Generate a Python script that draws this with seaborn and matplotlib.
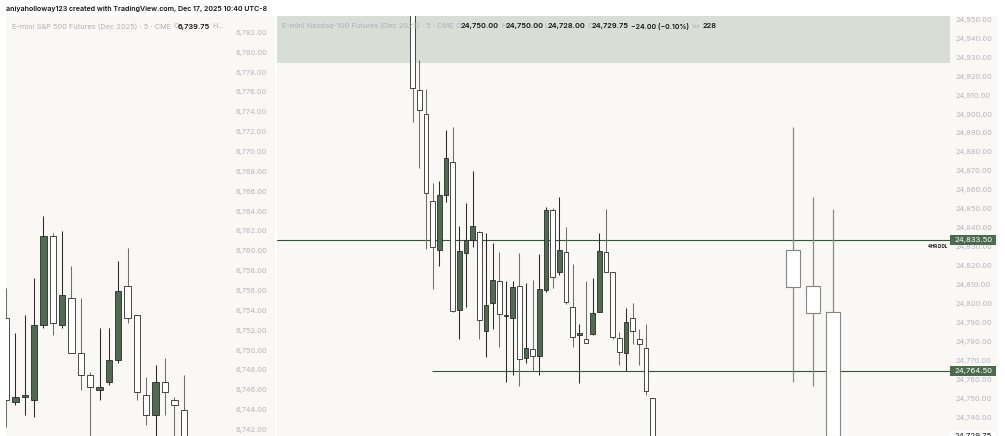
import matplotlib
matplotlib.use("Agg")
import matplotlib.pyplot as plt
import seaborn as sns
from matplotlib.patches import Rectangle
from matplotlib.transforms import blended_transform_factory

# ---------------- data ----------------
title_text = "aniyaholloway123 created with TradingView.com, Dec 17, 2025 10:40 UTC-8"

es_name = "E-mini S&P 500 Futures (Dec 2025) · 5 · CME"
es_last_open = "6,739.75"
es_open = [6753.25, 6744.75, 6745.25, 6745.0, 6752.5, 6761.5, 6752.5, 6755.25, 6749.75, 6747.5,
           6746.0, 6746.75, 6749.0, 6756.5, 6753.5, 6745.5, 6743.5, 6746.75, 6745.0, 6744.0]
es_high = [6756.25, 6751.75, 6753.5, 6757.25, 6763.5, 6761.75, 6762.0, 6758.5, 6755.25, 6747.75,
           6752.25, 6752.25, 6759.0, 6760.25, 6753.5, 6747.25, 6748.5, 6749.25, 6745.25, 6747.5]
es_low = [6742.25, 6744.5, 6743.5, 6743.25, 6752.25, 6751.5, 6752.25, 6749.75, 6746.0, 6741.0,
          6745.0, 6746.5, 6748.75, 6752.75, 6745.0, 6742.5, 6741.0, 6743.5, 6741.0, 6739.0]
es_close = [6745.0, 6745.25, 6745.5, 6752.5, 6761.5, 6752.75, 6755.5, 6749.75, 6747.5, 6746.25,
            6746.25, 6749.0, 6756.0, 6753.25, 6745.75, 6743.5, 6746.75, 6745.75, 6744.5, 6740.0]
es_ticks = [6742, 6744, 6746, 6748, 6750, 6752, 6754, 6756, 6758, 6760, 6762,
            6764, 6766, 6768, 6770, 6772, 6774, 6776, 6778, 6780, 6782]

nq_name = "E-mini Nasdaq-100 Futures (Dec 2025) · 5 · CME"
nq_ohlc_text = ["24,750.00", "24,750.00", "24,728.00", "24,729.75"]
nq_change_text = "−24.00 (−0.10%)"
nq_volume_text = "228"
nq_open = [24962.0, 24912.75, 24900.0, 24854.25, 24828.25, 24857.0, 24874.5, 24796.5, 24826.75, 24833.5,
           24837.5, 24785.5, 24800.0, 24812.0, 24793.25, 24792.25, 24809.25, 24771.0, 24776.0, 24772.5,
           24807.0, 24849.25, 24816.5, 24827.0, 24798.25, 24783.5, 24781.25, 24783.75, 24795.25, 24827.0,
           24816.5, 24781.5, 24773.75, 24792.5, 24781.0, 24776.25, 24750.0]
nq_high = [24965.0, 24928.5, 24913.25, 24863.5, 24864.75, 24891.5, 24893.25, 24841.0, 24853.0, 24870.0,
           24838.0, 24837.25, 24831.75, 24827.0, 24812.0, 24812.0, 24826.5, 24811.0, 24812.25, 24826.0,
           24851.0, 24850.25, 24856.0, 24840.5, 24820.75, 24789.25, 24811.75, 24813.5, 24837.0, 24849.75,
           24816.5, 24784.75, 24797.5, 24800.25, 24786.5, 24789.0, 24750.0]
nq_low = [24896.0, 24871.25, 24829.0, 24807.5, 24820.0, 24853.75, 24795.25, 24781.0, 24798.25, 24830.0,
          24781.0, 24771.5, 24786.75, 24777.25, 24758.75, 24762.25, 24756.5, 24768.75, 24764.5, 24762.25,
          24806.25, 24808.25, 24814.75, 24799.75, 24776.75, 24757.75, 24779.25, 24783.25, 24795.25, 24816.5,
          24781.25, 24767.75, 24764.5, 24778.5, 24767.75, 24751.75, 24728.0]
nq_close = [24914.0, 24902.0, 24858.25, 24829.75, 24857.0, 24876.75, 24796.0, 24827.75, 24833.5, 24841.0,
            24791.0, 24799.25, 24812.5, 24794.25, 24794.0, 24808.5, 24770.5, 24776.25, 24772.0, 24807.5,
            24849.25, 24813.75, 24828.25, 24800.5, 24782.25, 24784.25, 24779.25, 24794.75, 24827.75, 24816.5,
            24782.5, 24774.25, 24790.0, 24785.25, 24778.5, 24753.75, 24729.75]
nq_ticks = [24740, 24750, 24760, 24770, 24780, 24790, 24800, 24810, 24820, 24830, 24840,
            24850, 24860, 24870, 24880, 24890, 24900, 24910, 24920, 24930, 24940, 24950]

# higher-timeframe candles shown to the right (bar slot of each)
htf_slot = [57, 60, 63]
htf_open = [24828.25, 24809.25, 24795.5]
htf_high = [24893.25, 24856.0, 24849.75]
htf_low = [24758.75, 24756.5, 24728.0]
htf_close = [24808.75, 24794.75, 24729.75]

dol_level = 24833.50
dol_label = "4HR DOL"
low_level = 24764.50
low_level_start_bar = 2.9
last_price = 24729.75
zone_bottom = 24926.75
zone_top = 24960.0

# ---------------- style ----------------
W, H = 1005, 436
sns.set_theme(style="white")
plt.rcParams["font.family"] = ["Inter", "DejaVu Sans"]

BG = "#f9f8f5"
UP = "#4e6c50"
DOWN = "#ffffff"
EDGE = "#2a2a2a"
WICK_UP = "#2a2a2a"
WICK_DOWN = "#6e6e6e"
LEVEL = "#2f5a34"
LABEL_BG = "#4a6b4d"
TICK_C = "#b4b6bd"
ZONE = "#d8ddd5"

fig = plt.figure(figsize=(W / 100, H / 100), dpi=100)
fig.patch.set_facecolor("white")
renderer = fig.canvas.get_renderer()


def rect(x0, y0, x1, y1):
    return [x0 / W, 1 - y1 / H, (x1 - x0) / W, (y1 - y0) / H]


# panel backgrounds
fig.patches.append(Rectangle((6 / W, 0), (275 - 6) / W, (H - 16) / H, transform=fig.transFigure,
                             facecolor=BG, edgecolor="none", zorder=-5))
fig.patches.append(Rectangle((277 / W, 0), (998 - 277) / W, (H - 16) / H, transform=fig.transFigure,
                             facecolor=BG, edgecolor="none", zorder=-5))

ax_l = fig.add_axes(rect(6, 16, 230, 436))
ax_r = fig.add_axes(rect(277, 16, 950, 436))


def candles(ax, xs, o, h, l, c, width, wick_lw=0.75, edge_lw=0.6, up=UP, down=DOWN,
            edge=EDGE, wick_up=WICK_UP, wick_down=WICK_DOWN):
    for x, oo, hh, ll, cc in zip(xs, o, h, l, c):
        rising = cc > oo
        ax.vlines(x, ll, hh, color=wick_up if rising else wick_down, lw=wick_lw, zorder=2)
        lo, hi = min(oo, cc), max(oo, cc)
        ax.bar(x, max(hi - lo, 0.12), bottom=lo, width=width,
               color=up if rising else down, edgecolor=edge, linewidth=edge_lw, zorder=3)


candles(ax_l, range(len(es_open)), es_open, es_high, es_low, es_close, width=0.68)
candles(ax_r, range(len(nq_open)), nq_open, nq_high, nq_low, nq_close, width=0.7)
candles(ax_r, htf_slot, htf_open, htf_high, htf_low, htf_close, width=2.1,
        edge="#858585", wick_down="#8a8a8a", wick_lw=0.9, edge_lw=0.8)

ax_l.set_xlim(0.0, 23.95)
ax_l.set_ylim(6741.35, 6783.64)
ax_r.set_xlim(-20.35, 80.6)
ax_r.set_ylim(24730.0, 24951.76)

# zone & levels
ax_r.axhspan(zone_bottom, zone_top, color=ZONE, zorder=0.5, lw=0)
ax_r.axhline(dol_level, color=LEVEL, lw=0.8, zorder=1.5)
ax_r.hlines(low_level, low_level_start_bar, 80.6, color=LEVEL, lw=0.8, zorder=1.5)

# tick label size fitted to label width
probe = fig.text(0, 0, "24,950.00", fontsize=10)
pw = probe.get_window_extent(renderer).width
probe.remove()
tick_fs = 10 * 37.0 / pw

for ax, ticks in ((ax_l, es_ticks), (ax_r, nq_ticks)):
    ax.set_facecolor("none")
    for s in ax.spines.values():
        s.set_visible(False)
    ax.set_xticks([])
    ax.yaxis.tick_right()
    ax.set_yticks(ticks)
    ax.set_yticklabels([f"{t:,.2f}" for t in ticks])
    ax.tick_params(axis="y", length=0, pad=3.8, labelsize=tick_fs, labelcolor=TICK_C)
    ax.grid(False)

# price labels on the right scale
bt = blended_transform_factory(ax_r.transAxes, ax_r.transData)
box_w = 46.0 / 673.0
half_h = 5.0 / (420.0 / (24951.76 - 24730.0))
for lvl, bg, fg in ((dol_level, LABEL_BG, "white"), (low_level, LABEL_BG, "white"),
                    (last_price, "white", "#111111")):
    ax_r.add_patch(Rectangle((1.0, lvl - half_h), box_w, 2 * half_h, transform=bt,
                             facecolor=bg, edgecolor="none", clip_on=False, zorder=10))
    ax_r.text(1.0 + box_w / 2, lvl, f"{lvl:,.2f}", transform=bt, ha="center", va="center",
              fontsize=tick_fs * 1.05, color=fg, clip_on=False, zorder=11)

ax_r.text(0.9955, dol_level - 2.0, dol_label, transform=bt, ha="right", va="top",
          fontsize=tick_fs * 0.6, fontweight="bold", color="#111111", zorder=11)


# ---------------- header texts ----------------
def put(x0, y, s, size, color, weight="normal", x1=None):
    t = fig.text(x0 / W, 1 - y / H, s, fontsize=size, color=color, fontweight=weight,
                 ha="left", va="center")
    if x1 is not None:
        w = t.get_window_extent(renderer).width
        t.set_fontsize(size * (x1 - x0) / w)
    return t


tt = put(6, 8.5, title_text, 6, "#111111", weight="semibold", x1=268)

GRAY = "#aeb1b8"
ref = put(282, 26, nq_name, 6, GRAY, x1=452)
hs = ref.get_fontsize()
put(455.5, 26, "O", hs, GRAY)
put(460.5, 26, nq_ohlc_text[0], hs, "#111111", "semibold")
put(501.5, 26, "H", hs, GRAY)
put(506, 26, nq_ohlc_text[1], hs, "#111111", "semibold")
put(544.5, 26, "L", hs, GRAY)
put(548, 26, nq_ohlc_text[2], hs, "#111111", "semibold")
put(587.5, 26, "C", hs, GRAY)
put(591.5, 26, nq_ohlc_text[3], hs, "#111111", "semibold")
put(631, 26, nq_change_text, hs, "#111111", "semibold", x1=689)
put(692, 26, "Vol", hs, GRAY, x1=700.5)
put(702.5, 26, nq_volume_text, hs, "#111111", "semibold")

ref2 = put(11.5, 26.5, es_name, 6, GRAY, x1=169)
hs2 = ref2.get_fontsize()
put(173, 26.5, "O", hs2, GRAY)
put(178, 26.5, es_last_open, hs2, "#111111", "semibold")
put(212, 26.5, "H…", hs2, GRAY)

fig.savefig("out.png", dpi=100, facecolor="white")
